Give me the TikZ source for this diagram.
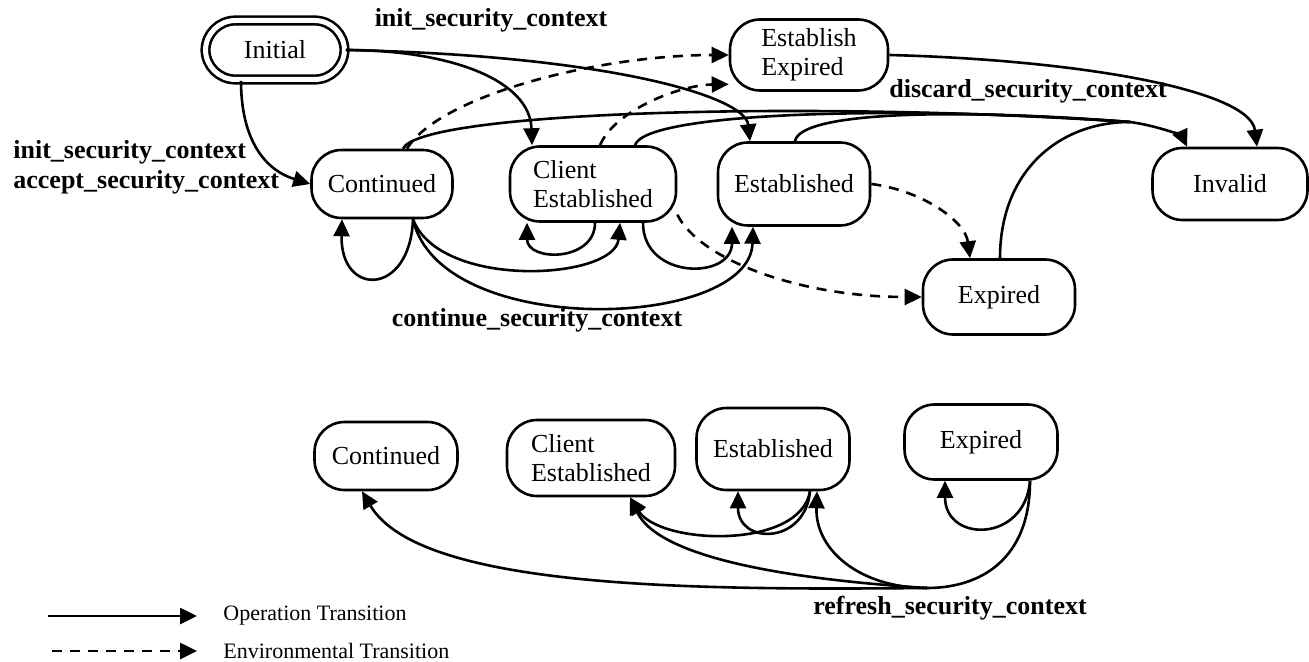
\documentclass[tikz,border=0pt]{standalone}
\usepackage{fontspec}
\setmainfont{Liberation Serif}
\usetikzlibrary{arrows.meta, calc}

\begin{document}
\begin{tikzpicture}[x=0.5pt, y=-0.5pt,
    state/.style={rectangle, draw, line width=1.3pt, rounded corners=15pt, inner sep=2pt, align=left, font=\fontsize{13}{14.5}\selectfont},
    op/.style={-{Triangle[length=8.5pt, width=8pt]}, line width=1.3pt},
    env/.style={op, dash pattern=on 5pt off 4pt},
    link/.style={line width=1.3pt},
    lbl/.style={font=\fontsize{13}{15}\selectfont\bfseries, inner sep=0pt, align=left},
    key/.style={font=\fontsize{11}{12}\selectfont, inner sep=0pt, anchor=west}
  ]
    \useasboundingbox (0,0) rectangle (1309,662);

    % upper diagram
    \node[state, double, double distance=2.5pt, minimum width=69.5pt, minimum height=29.5pt] (init) at (275,50) {Initial};
    \node[state, minimum width=70.5pt, minimum height=34pt] (cont) at (382,184) {Continued};
    \node[state, minimum width=83pt, minimum height=37.5pt] (cest) at (593,184) {Client\\Established};
    \node[state, minimum width=76pt, minimum height=41.5pt] (est) at (794,184) {Established};
    \node[state, minimum width=79pt, minimum height=35.5pt] (eexp) at (809,55) {Establish\\Expired};
    \node[state, minimum width=77.5pt, minimum height=36pt] (inv) at (1230,184) {Invalid};
    \node[state, minimum width=76pt, minimum height=37.5pt] (exp) at (999,297) {Expired};
    \coordinate (dhub) at (1130,122);

    \node[lbl] (linit) at (491,20) {init\_security\_context};
    \node[lbl, anchor=west] (lacc) at (13,167) {init\_security\_context\\accept\_security\_context};
    \node[lbl] (lcont) at (537,320) {continue\_security\_context};
    \node[lbl] (ldisc) at (1028,91) {discard\_security\_context};

    % operations
    \draw[op] ($(init.south)+(-34,0)$) .. controls (241,140) and (265,170) .. (cont.west);
    \draw[op] (init.east) .. controls (450,50) and (530,80) .. ($(cest.north)+(-61,0)$);
    \draw[op] (init.east) .. controls (600,55) and (745,95) .. ($(est.north)+(-44,0)$);
    \draw[op] ($(cont.south)+(31,0)$) .. controls (410,297) and (340,297) .. ($(cont.south)+(-40,0)$);
    \draw[op] ($(cont.south)+(31,0)$) .. controls (440,290) and (615,280) .. ($(cest.south)+(27,0)$);
    \draw[op] ($(cont.south)+(31,0)$) .. controls (440,340) and (750,330) .. ($(est.south)+(-41,0)$);
    \draw[op] ($(cest.south)+(2,0)$) .. controls (595,262) and (527,262) .. ($(cest.south)+(-66,0)$);
    \draw[op] ($(cest.south)+(50,0)$) .. controls (643,280) and (732,280) .. ($(est.south)+(-62,0)$);
    \draw[op] (eexp.east) .. controls (1080,60) and (1250,90) .. ($(inv.north)+(27,0)$);

    % discard
    \draw[link] ($(cont.north)+(21,0)$) .. controls (420,112) and (800,100) .. (dhub);
    \draw[link] ($(cest.north)+(42,0)$) .. controls (645,112) and (900,105) .. (dhub);
    \draw[link] ($(est.north)+(1,0)$) .. controls (800,112) and (950,108) .. (dhub);
    \draw[link] ($(exp.north)+(1,0)$) .. controls (1000,170) and (1060,122) .. (dhub);
    \draw[op] (dhub) .. controls (1165,127) and (1183,138) .. ($(inv.north)+(-43,0)$);

    % environment
    \draw[env] ($(cont.north)+(25,0)$) .. controls (440,95) and (600,55) .. (eexp.west);
    \draw[env] ($(cest.north)+(7,0)$) .. controls (615,110) and (680,85) .. (eexp.200);
    \draw[env] (est.east) .. controls (920,190) and (965,220) .. ($(exp.north)+(-29,0)$);
    \draw[env] (cest.-20) .. controls (700,260) and (800,297) .. (exp.west);

    % lower diagram
    \node[state, minimum width=71.5pt, minimum height=34pt] (bcont) at (386,456) {Continued};
    \node[state, minimum width=84pt, minimum height=38pt] (bcest) at (591,458) {Client\\Established};
    \node[state, minimum width=76.5pt, minimum height=41pt] (best) at (773,449) {Established};
    \node[state, minimum width=76.5pt, minimum height=37.5pt] (bexp) at (981,442) {Expired};
    \coordinate (rhub) at (927,588);
    \node[lbl] (lref) at (950,608) {refresh\_security\_context};

    \draw[op] (rhub) .. controls (700,590) and (420,590) .. ($(bcont.south)+(-24,0)$);
    \draw[op] (rhub) .. controls (800,580) and (660,560) .. ($(bcest.south)+(39,0)$);
    \draw[op] ($(best.south)+(37,0)$) .. controls (800,550) and (660,545) .. ($(bcest.south)+(39,0)$);
    \draw[op] ($(best.south)+(37,0)$) .. controls (805,545) and (738,545) .. ($(best.south)+(-35,0)$);
    \draw[op] (rhub) .. controls (860,588) and (815,550) .. ($(best.south)+(44,0)$);
    \draw[link] ($(bexp.south)+(49,0)$) .. controls (1030,560) and (980,588) .. (rhub);
    \draw[op] ($(bexp.south)+(49,0)$) .. controls (1025,543) and (945,543) .. ($(bexp.south)+(-36,0)$);

    % legend
    \coordinate (k1a) at (48,616);
    \coordinate (k1b) at (197,616);
    \coordinate (k2a) at (52,651);
    \coordinate (k2b) at (197,651);
    \node[key] (kop) at (223,616) {Operation Transition};
    \node[key] (kenv) at (223,651) {Environmental Transition};
    \draw[op] (k1a) -- (k1b);
    \draw[env] (k2a) -- (k2b);
\end{tikzpicture}
\end{document}
